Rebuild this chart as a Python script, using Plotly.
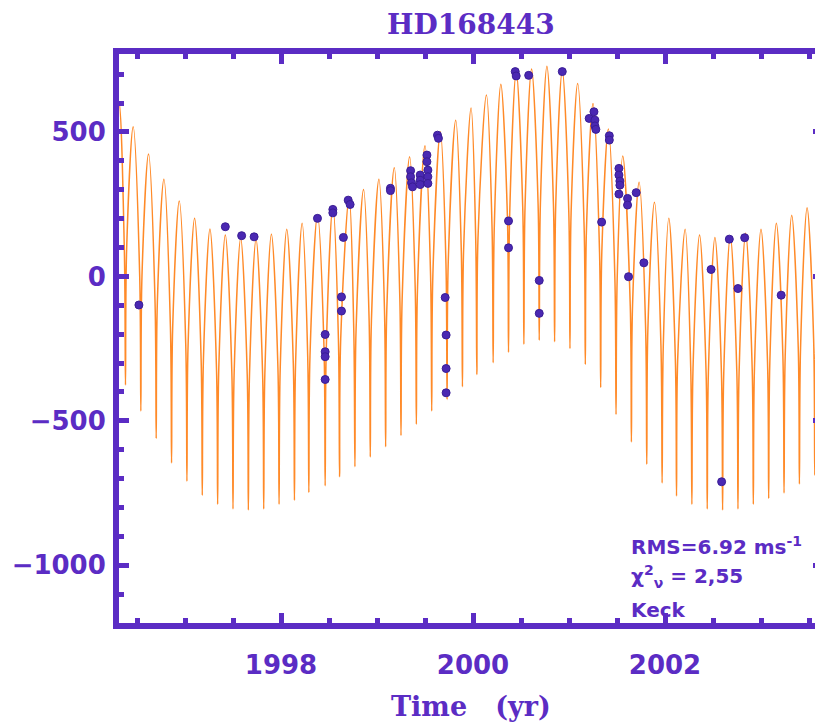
import plotly.graph_objects as go

# ---- model curve: per-cycle maxima, minima and the level where each dip starts
peak_t = [1996.31, 1996.46, 1996.62, 1996.78, 1996.94, 1997.10, 1997.26, 1997.42, 1997.58, 1997.74,
          1997.90, 1998.06, 1998.22, 1998.38, 1998.54, 1998.71, 1998.86, 1999.02, 1999.18, 1999.34,
          1999.50, 1999.66, 1999.82, 1999.98, 2000.14, 2000.29, 2000.45, 2000.61, 2000.77, 2000.93,
          2001.09, 2001.25, 2001.41, 2001.56, 2001.73, 2001.89, 2002.04, 2002.21, 2002.36, 2002.52,
          2002.68, 2002.84, 2003.00, 2003.16, 2003.32, 2003.48, 2003.64]
peak_rv = [605, 518, 424, 336, 261, 201, 164, 143, 132, 129,
           146, 163, 184, 212, 245, 276, 301, 336, 376, 414,
           452, 501, 541, 583, 628, 665, 709, 718, 728, 714,
           668, 599, 510, 417, 326, 257, 201, 163, 143, 135,
           140, 149, 163, 184, 212, 238, 276]
trough_t = [1996.38, 1996.54, 1996.70, 1996.86, 1997.02, 1997.18, 1997.34, 1997.50, 1997.66, 1997.82,
            1997.98, 1998.14, 1998.29, 1998.46, 1998.61, 1998.77, 1998.93, 1999.09, 1999.25, 1999.41,
            1999.57, 1999.73, 1999.89, 2000.04, 2000.21, 2000.37, 2000.53, 2000.69, 2000.85, 2001.01,
            2001.17, 2001.33, 2001.49, 2001.65, 2001.81, 2001.97, 2002.12, 2002.28, 2002.44, 2002.60,
            2002.76, 2002.92, 2003.08, 2003.24, 2003.40, 2003.56]
trough_rv = [-376, -466, -561, -646, -709, -758, -789, -805, -809, -805,
             -789, -775, -748, -725, -694, -659, -625, -590, -551, -512,
             -466, -426, -382, -340, -299, -263, -235, -221, -226, -250,
             -305, -385, -478, -573, -650, -715, -760, -789, -805, -809,
             -805, -789, -769, -750, -719, -688]
knee_rv = [93, 3, -90, -174, -239, -288, -318, -334, -339, -334,
           -317, -301, -275, -248, -217, -185, -153, -117, -78, -40,
           5, 48, 90, 133, 174, 212, 239, 251, 248, 221,
           164, 85, -7, -101, -179, -243, -289, -318, -333, -336,
           -330, -317, -298, -276, -247, -216]
start_t = [1996.28]
start_rv = [551]

# ---- Keck observations
obs_t = [1996.52, 1997.42, 1997.59, 1997.72, 1998.38, 1998.46, 1998.46, 1998.46, 1998.46, 1998.54,
         1998.54, 1998.63, 1998.63, 1998.65, 1998.70, 1998.72, 1999.14, 1999.14, 1999.35, 1999.35,
         1999.36, 1999.37, 1999.45, 1999.45, 1999.45, 1999.52, 1999.52, 1999.53, 1999.53, 1999.53,
         1999.63, 1999.64, 1999.71, 1999.72, 1999.72, 1999.72, 2000.37, 2000.37, 2000.44, 2000.45,
         2000.58, 2000.69, 2000.69, 2000.93, 2001.21, 2001.26, 2001.27, 2001.27, 2001.28, 2001.34,
         2001.42, 2001.42, 2001.52, 2001.52, 2001.53, 2001.53, 2001.52, 2001.61, 2001.61, 2001.62,
         2001.70, 2001.78, 2002.48, 2002.59, 2002.67, 2002.76, 2002.83, 2003.21]
obs_rv = [-99, 172, 141, 137, 201, -201, -261, -278, -357, 232,
          220, -71, -120, 135, 264, 249, 305, 297, 366, 345,
          324, 310, 351, 333, 318, 420, 397, 368, 345, 322,
          489, 478, -73, -203, -319, -403, 192, 99, 709, 694,
          696, -14, -128, 709, 547, 570, 541, 521, 509, 188,
          487, 472, 374, 351, 330, 316, 285, 270, 247, -1,
          290, 47, 24, -711, 129, -42, 134, -65]

title_text = "HD168443"
x_title = "Time&nbsp;&nbsp;&nbsp;(yr)"
notes = ["RMS=6.92 ms<sup>-1</sup>", "χ<sup>2</sup><sub>ν</sub> = 2,55", "Keck"]

PURPLE = "#5b2cc4"
DOT = "#4a28b2"
ORANGE = "rgb(255,138,40)"
SPIKE = 0.012  # half-width (yr) of the drawn dip

# assemble the polyline in time order
ct, cv = list(start_t), list(start_rv)
for i in range(len(trough_t)):
    ct += [peak_t[i], trough_t[i] - SPIKE, trough_t[i], trough_t[i] + SPIKE]
    cv += [peak_rv[i], knee_rv[i], trough_rv[i], knee_rv[i]]
ct.append(peak_t[-1])
cv.append(peak_rv[-1])

fig = go.Figure()
fig.add_trace(go.Scatter(x=ct, y=cv, mode="lines",
                         line=dict(color=ORANGE, width=1.5, shape="spline", smoothing=1.0),
                         hoverinfo="skip"))
fig.add_trace(go.Scatter(x=obs_t, y=obs_rv, mode="markers",
                         marker=dict(color=DOT, size=8, line=dict(color="#3a1d96", width=1))))

axis_common = dict(
    showline=True, linecolor=PURPLE, linewidth=6, mirror="ticks",
    ticks="inside", ticklen=10, tickwidth=5, tickcolor=PURPLE,
    showgrid=False, zeroline=False, automargin=False,
    tickfont=dict(family="DejaVu Sans", size=26, color=PURPLE, weight="bold"),
)
fig.update_xaxes(range=[1996.3125, 2003.6458], tick0=1998, dtick=2,
                 minor=dict(dtick=0.5, ticks="inside", ticklen=5, tickwidth=5, tickcolor=PURPLE,
                            showgrid=False),
                 ticklabelstandoff=14, **axis_common)
fig.update_yaxes(range=[-1200, 770], tick0=0, dtick=500,
                 minor=dict(dtick=100, ticks="inside", ticklen=5, tickwidth=5, tickcolor=PURPLE,
                            showgrid=False),
                 ticklabelstandoff=2, **axis_common)

ann = [
    dict(text=title_text, x=0.5, y=1.051, xref="paper", yref="paper", showarrow=False,
         xanchor="center", yanchor="middle",
         font=dict(family="DejaVu Serif", size=28, color=PURPLE, weight="bold")),
    dict(text=x_title, x=0.5, y=-0.1476, xref="paper", yref="paper", showarrow=False,
         xanchor="center", yanchor="middle",
         font=dict(family="DejaVu Serif", size=27, color=PURPLE, weight="bold")),
]
note_y = [0.1353, 0.0826, 0.0237]
for txt, yy in zip(notes, note_y):
    ann.append(dict(text=txt, x=0.7244, y=yy, xref="paper", yref="paper", showarrow=False,
                    xanchor="left", yanchor="middle",
                    font=dict(family="DejaVu Sans", size=20, color=PURPLE, weight="bold")))

# the page body adds an 8 px offset, so the figure is sized to fill the rest of the window
fig.update_layout(
    width=815, height=719,
    margin=dict(l=111, r=0, t=46, b=104, autoexpand=False),
    paper_bgcolor="white", plot_bgcolor="white",
    showlegend=False, annotations=ann,
)
fig.write_html("out.html")
